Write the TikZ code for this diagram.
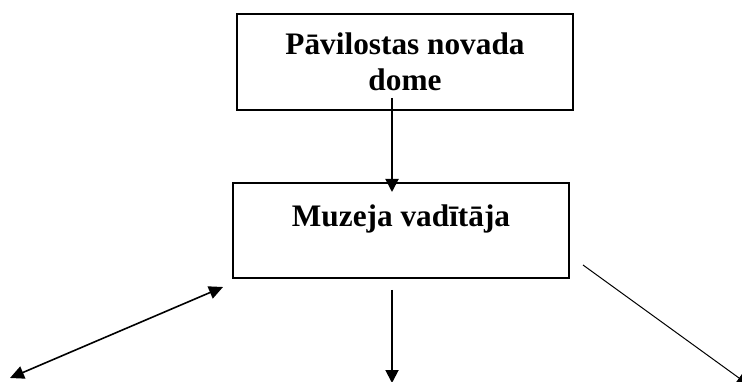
\documentclass[tikz,border=0pt]{standalone}
\usepackage{fontspec}
\setmainfont{Liberation Serif}
\usetikzlibrary{arrows.meta}
\begin{document}
\begin{tikzpicture}[x=1pt,y=-1pt,
  box/.style={draw,line width=1.9pt,inner sep=0pt,font=\bfseries\fontsize{31.3}{36}\selectfont},
  tip/.style={-{Triangle[length=13pt,width=13pt]}},
  dtip/.style={{Triangle[length=14pt,width=13pt]}-{Triangle[length=14pt,width=13pt]}}]
\clip (0,0) rectangle (742,382);
\useasboundingbox (0,0) rectangle (742,382);
\node[box,minimum width=336pt,minimum height=96pt,align=center] (dome) at (405,62) {Pāvilostas novada\\dome};
\node[box,minimum width=336pt,text height=43.5pt,text depth=51.5pt] (vad) at (401,230.5) {Muzeja vadītāja};
\coordinate (a0) at (392,98);
\coordinate (a1) at (392,192);
\coordinate (l0) at (10,378);
\coordinate (l1) at (223,287);
\coordinate (m0) at (392,290);
\coordinate (m1) at (392,383);
\coordinate (r0) at (583,265);
\coordinate (r1) at (748,384.5);
\draw[tip,line width=1.9pt] (a0) -- (a1);
\draw[dtip,line width=1.6pt] (l0) -- (l1);
\draw[tip,line width=1.9pt] (m0) -- (m1);
\draw[-{Triangle[length=11pt,width=10pt]},line width=1pt] (r0) -- (r1);
\end{tikzpicture}
\end{document}
